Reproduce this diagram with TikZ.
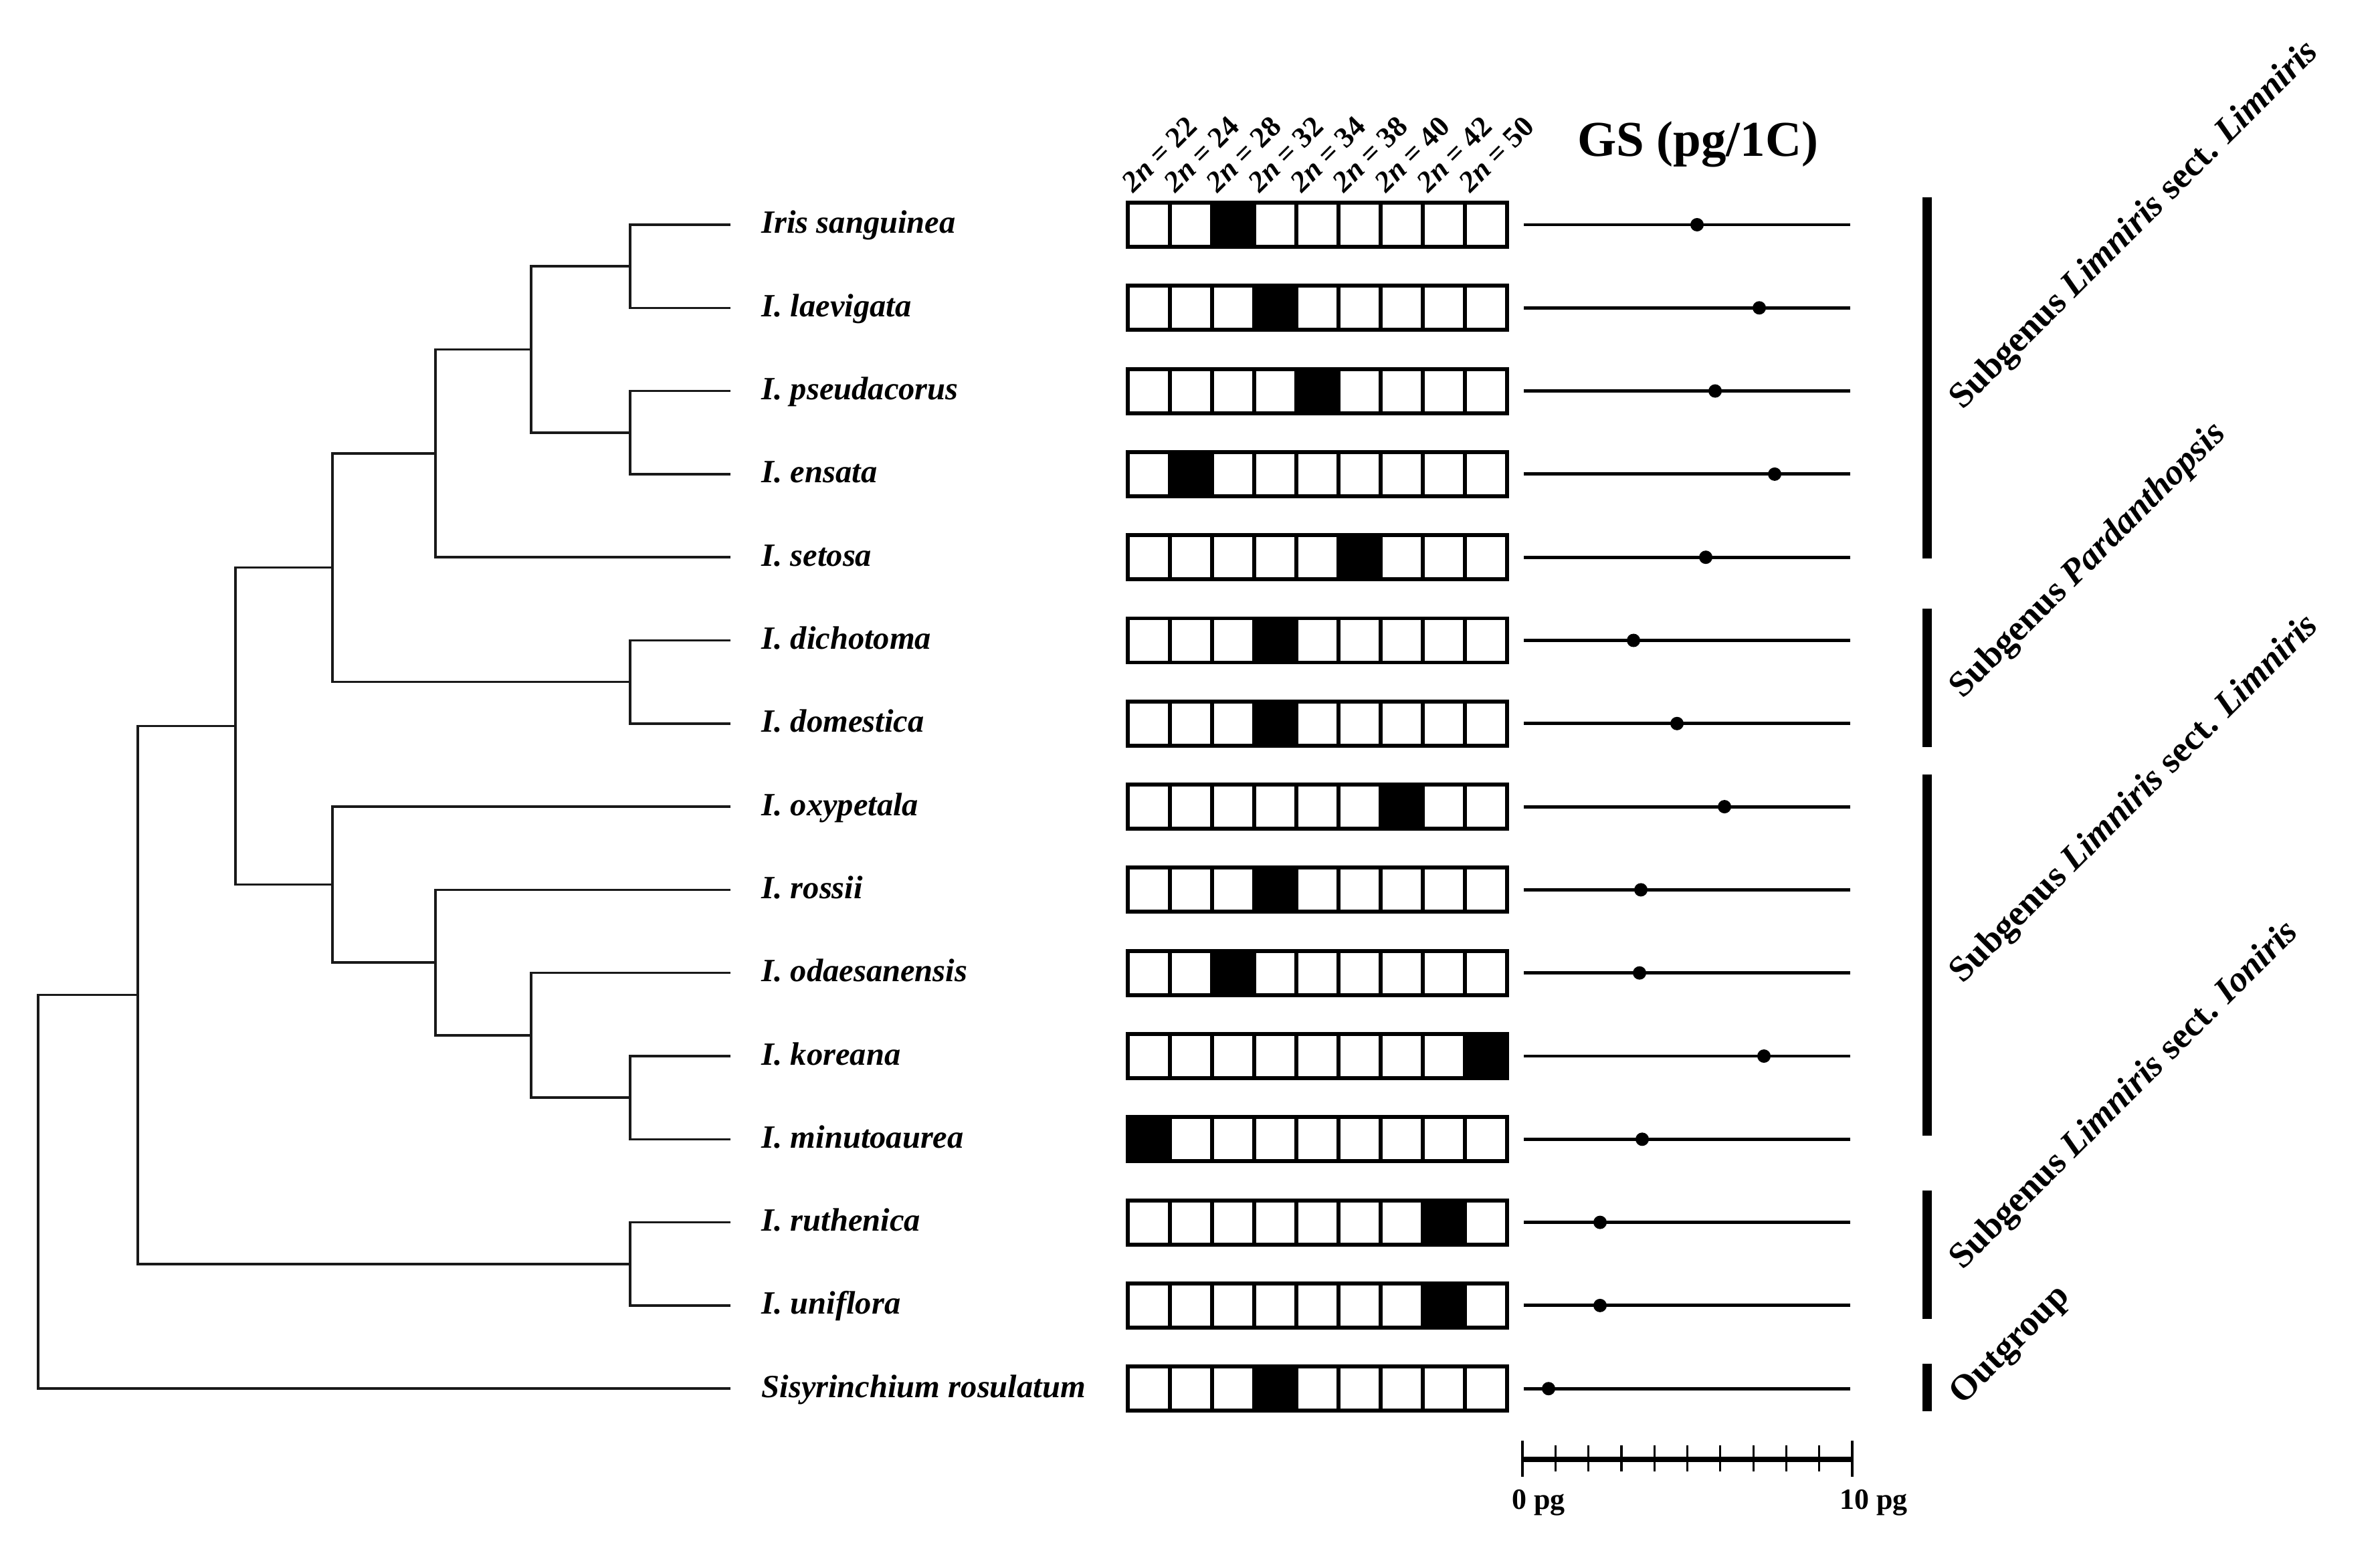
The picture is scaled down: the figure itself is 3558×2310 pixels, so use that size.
\documentclass[tikz,border=0pt]{standalone}
\usepackage{fontspec}
\setmainfont{Liberation Serif}
\begin{document}
\begin{tikzpicture}[x=0.01cm,y=-0.01cm,
  tree/.style={line width=1.0pt, draw=black!90},
  sp/.style={anchor=base west, inner sep=0pt, font=\fontsize{13.8}{16}\selectfont\bfseries\itshape},
  cell/.style={draw=black, line width=1.7pt, fill=white},
  cellon/.style={draw=black, line width=1.7pt, fill=black},
  gsline/.style={line width=1.4pt, draw=black},
  gsdot/.style={circle, fill=black, inner sep=0pt, minimum size=0.2cm},
  collab/.style={rotate=45, anchor=base west, inner sep=0pt, font=\fontsize{12.5}{14}\selectfont\bfseries},
  grplab/.style={rotate=45, anchor=base west, inner sep=0pt, font=\fontsize{15.4}{18}\selectfont\bfseries},
  grpbar/.style={line width=3.8pt, draw=black},
  scalebar/.style={line width=2.4pt, draw=black},
  tick/.style={line width=0.9pt, draw=black},
  scalelab/.style={anchor=base, inner sep=0pt, font=\fontsize{12.5}{14}\selectfont\bfseries}
]
\useasboundingbox (0,0) rectangle (3558,2310);

% leaf tips, labels, chromosome boxes, genome sizes
\foreach \i/\name/\b/\gs in {
  0/Iris sanguinea/2/2537,
  1/I. laevigata/3/2630,
  2/I. pseudacorus/4/2564,
  3/I. ensata/1/2653,
  4/I. setosa/5/2550,
  5/I. dichotoma/3/2442,
  6/I. domestica/3/2507,
  7/I. oxypetala/6/2578,
  8/I. rossii/3/2453,
  9/I. odaesanensis/2/2451,
  10/I. koreana/8/2637,
  11/I. minutoaurea/0/2455,
  12/I. ruthenica/7/2392,
  13/I. uniflora/7/2392,
  14/Sisyrinchium rosulatum/3/2315}{
  \pgfmathsetmacro{\yy}{336+124.3*\i}
  \coordinate (t\i) at (1092,\yy);
  \node[sp] (lab\i) at (1138,\yy+13) {\name};
  \foreach \j in {0,...,8}{
    \ifnum\j=\b
      \draw[cellon] ({1686+63*\j},\yy-33) rectangle ({1749+63*\j},\yy+33);
    \else
      \draw[cell] ({1686+63*\j},\yy-33) rectangle ({1749+63*\j},\yy+33);
    \fi
  }
  \coordinate (gsL\i) at (2278,\yy);
  \coordinate (gsR\i) at (2766,\yy);
  \draw[gsline] (gsL\i) -- (gsR\i);
  \node[gsdot] (gs\i) at (\gs,\yy) {};
}

% internal nodes of the tree
\coordinate (A) at (942,398.15);
\coordinate (B) at (942,646.75);
\coordinate (AB) at (794,522.45);
\coordinate (ABS) at (651,677.8);
\coordinate (D) at (942,1019.65);
\coordinate (ABSD) at (497,848.7);
\coordinate (K) at (942,1641.15);
\coordinate (OK) at (794,1547.9);
\coordinate (R) at (651,1439.2);
\coordinate (O) at (497,1322.6);
\coordinate (Big) at (352,1085.7);
\coordinate (Ru) at (942,1889.75);
\coordinate (BR) at (206,1487.7);
\coordinate (Root) at (57,1781.95);

\draw[tree] (t0) -| (A) |- (t1);
\draw[tree] (t2) -| (B) |- (t3);
\draw[tree] (A) -| (AB) |- (B);
\draw[tree] (AB) -| (ABS) |- (t4);
\draw[tree] (t5) -| (D) |- (t6);
\draw[tree] (ABS) -| (ABSD) |- (D);
\draw[tree] (t10) -| (K) |- (t11);
\draw[tree] (t9) -| (OK) |- (K);
\draw[tree] (t8) -| (R) |- (OK);
\draw[tree] (t7) -| (O) |- (R);
\draw[tree] (ABSD) -| (Big) |- (O);
\draw[tree] (t12) -| (Ru) |- (t13);
\draw[tree] (Big) -| (BR) |- (Ru);
\draw[tree] (BR) -| (Root) |- (t14);

% column labels
\foreach \j/\n in {0/22,1/24,2/28,3/32,4/34,5/38,6/40,7/42,8/50}{
  \node[collab] (col\j) at ({1694+63*\j},290) {\textit{2n} = \n};
}

% title
\node[anchor=base, inner sep=0pt, font=\fontsize{21.3}{24}\selectfont\bfseries] (title) at (2538,234) {GS (pg/1C)};

% scale bar
\coordinate (s0) at (2276,2182);
\coordinate (s10) at (2769,2182);
\draw[scalebar] (s0) -- (s10);
\draw[tick] (2276,2154) -- (2276,2208);
\draw[tick] (2769,2154) -- (2769,2208);
\foreach \k in {1,...,9}{
  \draw[tick] ({2276+49.3*\k},2161) -- ({2276+49.3*\k},2200);
}
\node[scalelab] (zero) at (2300,2256) {0 pg};
\node[scalelab] (ten) at (2801,2256) {10 pg};

% group bars
\draw[grpbar] (2881,295) -- (2881,835);
\draw[grpbar] (2881,910) -- (2881,1117);
\draw[grpbar] (2881,1158) -- (2881,1698);
\draw[grpbar] (2881,1780) -- (2881,1972);
\draw[grpbar] (2881,2039) -- (2881,2110);

% group labels
\node[grplab] (g1) at (2934,614) {Subgenus \textit{Limniris} sect. \textit{Limniris}};
\node[grplab] (g2) at (2934,1046) {Subgenus \textit{Pardanthopsis}};
\node[grplab] (g3) at (2934,1472) {Subgenus \textit{Limniris} sect. \textit{Limniris}};
\node[grplab] (g4) at (2934,1900) {Subgenus \textit{Limniris} sect. \textit{Ioniris}};
\node[grplab] (g5) at (2934,2102) {Outgroup};
\end{tikzpicture}
\end{document}
